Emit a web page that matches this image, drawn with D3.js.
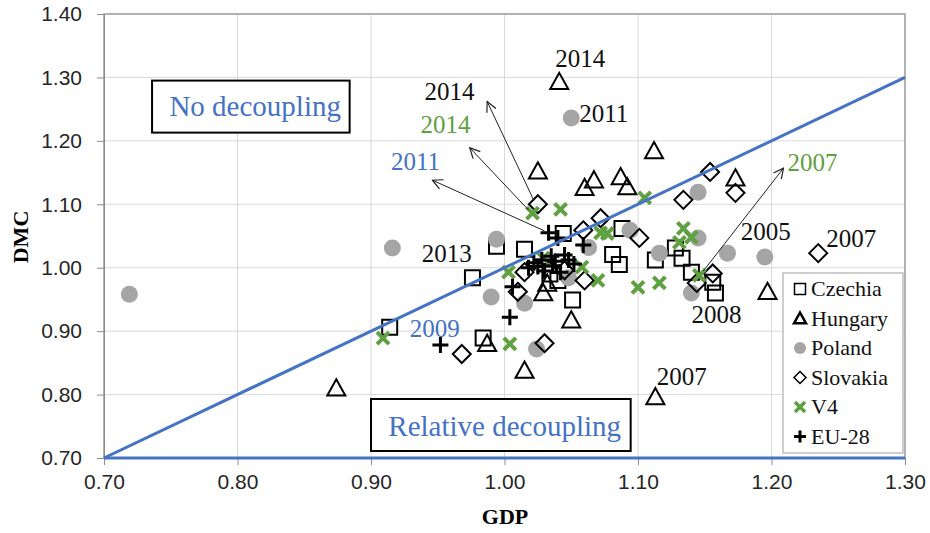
<!DOCTYPE html>
<html><head><meta charset="utf-8">
<script src="https://cdn.jsdelivr.net/npm/d3@7/dist/d3.min.js"></script>
<style>body{margin:0;background:#fff}svg{display:block}</style>
</head><body>
<svg id="c" width="930" height="533"></svg>
<script>
// ---- data (GDP index, DMC index) ----
const czechia = [[0.914,0.906],[0.976,0.984],[0.984,0.889],[0.994,1.034],[1.015,1.029],[1.044,1.054],[1.051,0.949],[1.034,0.990],[1.040,0.980],[1.081,1.021],[1.086,1.005],[1.088,1.062],[1.113,1.012],[1.128,1.031],[1.133,1.015],[1.140,0.993],[1.156,0.977],[1.158,0.960]];
const hungary = [[0.874,0.810],[0.987,0.880],[1.015,0.838],[1.029,0.960],[1.025,1.152],[1.041,1.293],[1.050,0.917],[1.060,1.126],[1.067,1.138],[1.087,1.143],[1.092,1.127],[1.112,1.184],[1.113,0.796],[1.173,1.141],[1.197,0.962],[1.032,0.975]];
const poland = [[0.719,0.958],[0.916,1.031],[0.990,0.954],[0.994,1.045],[1.015,0.944],[1.024,0.872],[1.048,0.984],[1.050,1.236],[1.063,1.032],[1.094,1.059],[1.116,1.023],[1.140,0.960],[1.145,1.047],[1.145,1.119],[1.167,1.023],[1.195,1.017]];
const slovakia = [[0.968,0.864],[1.010,0.962],[1.015,0.993],[1.025,1.100],[1.030,0.881],[1.045,0.996],[1.059,1.059],[1.060,0.980],[1.072,1.078],[1.101,1.047],[1.134,1.107],[1.144,0.976],[1.154,1.151],[1.156,0.991],[1.173,1.118],[1.235,1.023]];
const v4 = [[0.909,0.889],[1.003,0.993],[1.004,0.880],[1.021,1.086],[1.029,1.015],[1.042,1.092],[1.058,1.001],[1.070,0.980],[1.072,1.055],[1.077,1.054],[1.100,0.969],[1.105,1.110],[1.116,0.976],[1.131,1.040],[1.134,1.062],[1.140,1.048],[1.146,0.988]];
const eu28 = [[0.952,0.878],[1.004,0.922],[1.006,0.970],[1.018,1.000],[1.022,1.008],[1.025,1.002],[1.028,1.012],[1.030,0.995],[1.033,1.055],[1.035,1.018],[1.036,1.003],[1.038,1.010],[1.040,1.047],[1.042,0.993],[1.045,1.020],[1.048,1.012],[1.052,1.006],[1.059,1.036]];
const seriesNames = ["Czechia","Hungary","Poland","Slovakia","V4","EU-28"];
const xTicks = [0.70,0.80,0.90,1.00,1.10,1.20,1.30];
const yTicks = [0.70,0.80,0.90,1.00,1.10,1.20,1.30,1.40];
const diagonal = [[0.70,0.70],[1.30,1.30]];
const baseline = [[0.70,0.70],[1.30,0.70]];
// year labels: text, colour key, GDP, DMC (anchor)
const yearLabels = [
  ["2014","k",1.038,1.316],["2011","k",1.056,1.230],["2014","k",0.940,1.264],
  ["2014","g",0.937,1.212],["2011","b",0.915,1.154],["2013","k",0.938,1.009],
  ["2009","b",0.929,0.891],["2007","g",1.212,1.153],["2005","k",1.177,1.044],
  ["2007","k",1.241,1.033],["2008","k",1.140,0.913],["2007","k",1.114,0.815]];
// arrows: from (GDP,DMC) to (GDP,DMC)
const arrows = [[1.022,1.106,0.987,1.262],[1.018,1.091,0.974,1.189],[1.030,1.058,0.946,1.138],[1.149,0.995,1.209,1.157]];

const W=930,H=533;
const x = d3.scaleLinear().domain([0.70,1.30]).range([104,905]);
const y = d3.scaleLinear().domain([0.70,1.40]).range([458,14]);
const svg = d3.select("#c");
const BLUE="#4472C4", GREEN="#5FA040", GRAY="#A5A5A5";
const col = {k:"#111", g:GREEN, b:BLUE};

// grid
svg.append("g").selectAll("line").data(xTicks).join("line")
  .attr("x1",d=>x(d)).attr("x2",d=>x(d)).attr("y1",y(1.40)).attr("y2",y(0.70))
  .attr("stroke","#d9d9d9").attr("stroke-width",1);
svg.append("g").selectAll("line").data(yTicks).join("line")
  .attr("y1",d=>y(d)).attr("y2",d=>y(d)).attr("x1",x(0.70)).attr("x2",x(1.30))
  .attr("stroke","#d9d9d9").attr("stroke-width",1);
// plot border
svg.append("rect").attr("x",x(0.70)).attr("y",y(1.40)).attr("width",x(1.30)-x(0.70)).attr("height",y(0.70)-y(1.40))
  .attr("fill","none").attr("stroke","#8c8c8c").attr("stroke-width",1.2);

// axes
const yAxis = d3.axisLeft(y).tickValues(yTicks).tickFormat(d3.format(".2f")).tickSize(7).tickPadding(15);
const gy = svg.append("g").attr("transform",`translate(${x(0.70)},0)`).call(yAxis);
const xAxis = d3.axisBottom(x).tickValues(xTicks).tickFormat(d3.format(".2f")).tickSize(7).tickPadding(9);
const gx = svg.append("g").attr("transform",`translate(0,${y(0.70)})`).call(xAxis);
[gx,gy].forEach(g=>{
  g.select(".domain").attr("stroke","#8c8c8c");
  g.selectAll(".tick line").attr("stroke","#8c8c8c");
  g.selectAll("text").attr("font-family","'Liberation Sans', Arial, sans-serif").attr("font-size",21).attr("fill","#262626");
});

svg.append("text").attr("x",505).attr("y",524).attr("text-anchor","middle")
  .attr("font-family","'Liberation Serif','Times New Roman',serif").attr("font-weight","bold").attr("font-size",22).text("GDP");
svg.append("text").attr("transform","translate(28,237) rotate(-90)").attr("text-anchor","middle")
  .attr("font-family","'Liberation Serif','Times New Roman',serif").attr("font-weight","bold").attr("font-size",22).text("DMC");

// symbol generators
const sym = {
  square: s=>`M${-s},${-s}H${s}V${s}H${-s}Z`,
  triangle: s=>`M0,${-s}L${s},${s*0.8}H${-s}Z`,
  diamond: s=>`M0,${-s}L${s},0L0,${s}L${-s},0Z`,
  cross: s=>`M${-s},${-s}L${s},${s}M${s},${-s}L${-s},${s}`,
  plus: s=>`M${-s},0H${s}M0,${-s}V${s}`
};
function drawPts(data, path, fill, stroke, sw){
  svg.append("g").selectAll("path").data(data).join("path")
    .attr("transform",d=>`translate(${x(d[0])},${y(d[1])})`)
    .attr("d",path).attr("fill",fill).attr("stroke",stroke).attr("stroke-width",sw);
}
drawPts(czechia, sym.square(7.5), "none", "#000", 2);
drawPts(hungary, sym.triangle(9), "none", "#000", 2);
svg.append("g").selectAll("circle").data(poland).join("circle")
  .attr("cx",d=>x(d[0])).attr("cy",d=>y(d[1])).attr("r",8.5).attr("fill",GRAY);
drawPts(slovakia, sym.diamond(9), "none", "#000", 2);
drawPts(v4, sym.cross(6), "none", GREEN, 4);
drawPts(eu28, sym.plus(8), "none", "#000", 3);

// decoupling lines
const line = d3.line().x(d=>x(d[0])).y(d=>y(d[1]));
svg.append("path").attr("d",line(diagonal)).attr("stroke",BLUE).attr("stroke-width",3).attr("fill","none");
svg.append("path").attr("d",line(baseline)).attr("stroke",BLUE).attr("stroke-width",3).attr("fill","none");

// arrows
svg.append("defs").append("marker").attr("id","ah").attr("viewBox","0 0 12 12").attr("refX",11).attr("refY",6)
  .attr("markerWidth",12).attr("markerHeight",12).attr("markerUnits","userSpaceOnUse").attr("orient","auto")
  .append("path").attr("d","M1,1L11,6L1,11").attr("fill","none").attr("stroke","#222").attr("stroke-width",1.2);
svg.append("g").selectAll("line").data(arrows).join("line")
  .attr("x1",d=>x(d[0])).attr("y1",d=>y(d[1])).attr("x2",d=>x(d[2])).attr("y2",d=>y(d[3]))
  .attr("stroke","#222").attr("stroke-width",1).attr("marker-end","url(#ah)");

// year labels
svg.append("g").selectAll("text").data(yearLabels).join("text")
  .attr("x",d=>x(d[2])).attr("y",d=>y(d[3])).attr("fill",d=>col[d[1]])
  .attr("font-family","'Liberation Serif','Times New Roman',serif").attr("font-size",25).text(d=>d[0]);

// boxes
function box(x0,y0,w,h,label,tx,ty,fs){
  svg.append("rect").attr("x",x0).attr("y",y0).attr("width",w).attr("height",h)
    .attr("fill","#fff").attr("stroke","#000").attr("stroke-width",2);
  svg.append("text").attr("x",tx).attr("y",ty).attr("fill",BLUE)
    .attr("font-family","'Liberation Serif','Times New Roman',serif").attr("font-size",fs).text(label);
}
box(x(0.736),y(1.295),x(0.884)-x(0.736),y(1.213)-y(1.295),"No decoupling",x(0.749),y(1.239),29);
box(x(0.9),y(0.793),x(1.0945)-x(0.9),y(0.711)-y(0.793),"Relative decoupling",x(0.913),y(0.735),29);

// legend
const lg = svg.append("g");
lg.append("rect").attr("x",783).attr("y",273).attr("width",120).attr("height",180)
  .attr("fill","#fff").attr("stroke","#bfbfbf").attr("stroke-width",1.5);
const legSym = [
  g=>g.append("path").attr("d",sym.square(5.5)).attr("fill","none").attr("stroke","#000").attr("stroke-width",1.5),
  g=>g.append("path").attr("d",sym.triangle(6)).attr("fill","none").attr("stroke","#000").attr("stroke-width",2.5),
  g=>g.append("circle").attr("r",6).attr("fill",GRAY),
  g=>g.append("path").attr("d",sym.diamond(6)).attr("fill","none").attr("stroke","#000").attr("stroke-width",1.5),
  g=>g.append("path").attr("d",sym.cross(5)).attr("fill","none").attr("stroke",GREEN).attr("stroke-width",3.5),
  g=>g.append("path").attr("d",sym.plus(6)).attr("fill","none").attr("stroke","#000").attr("stroke-width",3)
];
seriesNames.forEach((n,i)=>{
  const g = lg.append("g").attr("transform",`translate(800,${289+i*29.5})`);
  legSym[i](g);
  g.append("text").attr("x",11).attr("y",7).attr("font-family","'Liberation Serif','Times New Roman',serif")
    .attr("font-size",22).attr("fill","#111").text(n);
});
</script>
</body></html>
